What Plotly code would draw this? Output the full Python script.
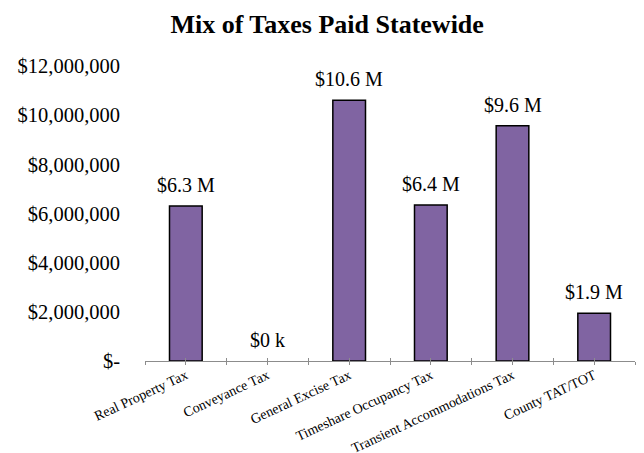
import plotly.graph_objects as go

categories = ["Real Property Tax", "Conveyance Tax", "General Excise Tax",
              "Timeshare Occupancy Tax", "Transient Accommodations Tax", "County TAT/TOT"]
values = [6310000, 0, 10610000, 6350000, 9570000, 1940000]
value_labels = ["$6.3 M", "$0 k", "$10.6 M", "$6.4 M", "$9.6 M", "$1.9 M"]
y_ticks = [0, 2000000, 4000000, 6000000, 8000000, 10000000, 12000000]

FONT = "Liberation Serif, Times New Roman, serif"
tick_text = ["$-" if v == 0 else "${:,.0f}".format(v) for v in y_ticks]

n = len(categories)
tick_pos = [i * 0.5 - 0.5 for i in range(2 * n + 1)]

fig = go.Figure()
fig.add_trace(go.Bar(
    x=categories, y=values, width=0.4,
    marker=dict(color="#8064A2",
                line=dict(color="black", width=[1.5 if v > 0 else 0 for v in values])),
    showlegend=False, hoverinfo="skip",
))
# invisible helper traces so that the tick-mark overlay axes are drawn
for ax in ["x2", "x3"]:
    fig.add_trace(go.Scatter(x=tick_pos, y=[0] * len(tick_pos), xaxis=ax, yaxis="y",
                             mode="markers", marker=dict(opacity=0),
                             showlegend=False, hoverinfo="skip"))

for c, v, t in zip(categories, values, value_labels):
    fig.add_annotation(x=c, y=v, text=t, showarrow=False, yanchor="bottom",
                       yshift=8, font=dict(family=FONT, size=20, color="black"))

fig.update_layout(
    width=644, height=453,
    margin=dict(l=145, r=9, t=66, b=92),
    paper_bgcolor="white", plot_bgcolor="white",
    title=dict(text="<b>Mix of Taxes Paid Statewide</b>", x=0.508, xanchor="center",
               y=1 - 24 / 453, yanchor="middle", yref="container",
               font=dict(family=FONT, size=26, color="black")),
    xaxis=dict(type="category", categoryorder="array", categoryarray=categories,
               range=[-0.5, n - 0.5], showline=True, linecolor="#8c8c8c", linewidth=1,
               ticks="", tickangle=-25, showgrid=False, zeroline=False, automargin=False,
               tickfont=dict(family=FONT, size=14, color="black")),
    xaxis2=dict(overlaying="x", anchor="y", side="bottom", range=[-0.5, n - 0.5],
                tickmode="array", tickvals=tick_pos, ticks="outside", ticklen=3,
                tickcolor="#8c8c8c", showticklabels=False, showgrid=False,
                zeroline=False, showline=False, automargin=False),
    xaxis3=dict(overlaying="x", anchor="y", side="bottom", range=[-0.5, n - 0.5],
                tickmode="array", tickvals=tick_pos, ticks="inside", ticklen=3,
                tickcolor="#8c8c8c", showticklabels=False, showgrid=False,
                zeroline=False, showline=False, automargin=False),
    yaxis=dict(range=[0, 12000000], tickmode="array", tickvals=y_ticks, ticktext=tick_text,
               showgrid=False, zeroline=False, showline=False, ticks="",
               ticklabelstandoff=24, automargin=False,
               tickfont=dict(family=FONT, size=20.5, color="black")),
)

fig.write_html("out.html")
